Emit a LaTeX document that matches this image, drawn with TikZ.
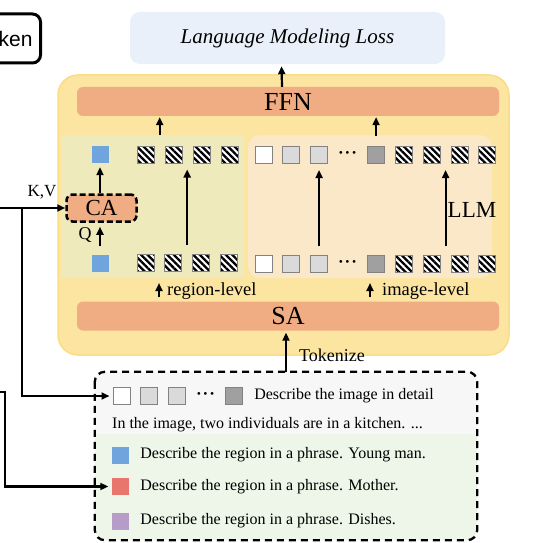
\documentclass[tikz,border=0pt]{standalone}
\usepackage{fontspec}
\setmainfont{Liberation Serif}
\newfontfamily\tokfont{Liberation Sans}
\usetikzlibrary{arrows.meta,positioning,calc,patterns.meta}
\definecolor{lossblue}{RGB}{233,240,250}
\definecolor{llmyellow}{RGB}{252,229,160}
\definecolor{llmedge}{RGB}{251,220,135}
\definecolor{lpanel}{RGB}{238,234,188}
\definecolor{rpanel}{RGB}{250,232,200}
\definecolor{barorange}{RGB}{240,172,130}
\definecolor{qblue}{RGB}{111,165,220}
\definecolor{redsq}{RGB}{232,118,108}
\definecolor{purplesq}{RGB}{182,156,200}
\definecolor{tokgray}{RGB}{130,130,130}
\definecolor{lgtok}{RGB}{218,218,218}
\definecolor{dgtok}{RGB}{160,160,160}
\definecolor{promptwhite}{RGB}{247,247,247}
\definecolor{promptgreen}{RGB}{238,245,233}
\newcommand\tokdots{\textbf{·\kern1pt·\kern1pt·}}

\begin{document}
\begin{tikzpicture}[x=1pt, y=-1pt, >={Triangle[length=8pt, width=7pt]}, font=\fontsize{16}{19}\selectfont]
      \tikzstyle{bar}   = [rectangle, fill=barorange, rounded corners=6, minimum width=422, minimum height=29, inner sep=0, font=\fontsize{26}{30}\selectfont]
      \tikzstyle{tok}   = [rectangle, draw=tokgray, line width=1, minimum size=17, inner sep=0]
      \tikzstyle{hatch} = [tok, preaction={fill=white}, pattern={Lines[angle=-45, distance=4.6pt, line width=2.3pt]}]
      \tikzstyle{csq}   = [rectangle, minimum size=17, inner sep=0]
      \tikzstyle{dots}  = [minimum size=17, inner sep=0, font=\fontsize{17}{17}\selectfont]
      \tikzstyle{flow}  = [->, line width=2.2]
      \tikzstyle{desc}  = [anchor=west, inner sep=0]
      \tikzstyle{lbl}   = [inner sep=0, font=\fontsize{18.5}{22}\selectfont]

      \useasboundingbox (0,0) rectangle (544,543);

      % cut-off token box, top left
      \node[draw, line width=3, rounded corners=8, text width=60, align=right, minimum height=49, inner xsep=8, anchor=east, font=\tokfont\fontsize{21}{25}\selectfont] (tkn) at (42,38.5) {ken};

      \node[fill=lossblue, rounded corners=10, minimum width=315, minimum height=52, font=\itshape\fontsize{21}{25}\selectfont] (loss) at (287.5,38) {Language Modeling Loss};

      % LLM block
      \node[fill=llmyellow, draw=llmedge, line width=1.5, rounded corners=20, minimum width=451, minimum height=280, inner sep=0] (llm) at (283.5,215) {};
      \node[fill=lpanel, rounded corners=4, minimum width=183, minimum height=143, inner sep=0] (lp) at (152.5,206.5) {};
      \node[fill=rpanel, rounded corners=12, minimum width=244, minimum height=143, inner sep=0] (rp) at (370,206.5) {};
      \node[bar] (ffn) at (288,101.5) {FFN};
      \node[bar] (sa)  at (288,316)   {SA};

      % top token row
      \node[csq, fill=qblue]                (qt)  at (100,154.5) {};
      \node[hatch]                          (rt1) at (145.5,154.5) {};
      \node[hatch, right=9.8pt of rt1]      (rt2) {};
      \node[hatch, right=9.8pt of rt2]      (rt3) {};
      \node[hatch, right=9.8pt of rt3]      (rt4) {};
      \node[tok, fill=white]                (it0) at (263.5,155) {};
      \node[tok, fill=lgtok, right=9.8pt of it0] (it1) {};
      \node[tok, fill=lgtok, right=9.8pt of it1] (it2) {};
      \node[dots, right=9.8pt of it2]       (itd) {\tokdots};
      \node[tok, fill=dgtok, right=9.8pt of itd] (it3) {};
      \node[hatch, right=9.8pt of it3]      (ht1) {};
      \node[hatch, right=9.8pt of ht1]      (ht2) {};
      \node[hatch, right=9.8pt of ht2]      (ht3) {};
      \node[hatch, right=9.8pt of ht3]      (ht4) {};

      % bottom token row
      \node[csq, fill=qblue]                (qb)  at (100,263) {};
      \node[hatch]                          (rb1) at (145.5,263) {};
      \node[hatch, right=9.8pt of rb1]      (rb2) {};
      \node[hatch, right=9.8pt of rb2]      (rb3) {};
      \node[hatch, right=9.8pt of rb3]      (rb4) {};
      \node[tok, fill=white]                (ib0) at (263.5,264) {};
      \node[tok, fill=lgtok, right=9.8pt of ib0] (ib1) {};
      \node[tok, fill=lgtok, right=9.8pt of ib1] (ib2) {};
      \node[dots, right=9.8pt of ib2]       (ibd) {\tokdots};
      \node[tok, fill=dgtok, right=9.8pt of ibd] (ib3) {};
      \node[hatch, right=9.8pt of ib3]      (hb1) {};
      \node[hatch, right=9.8pt of hb1]      (hb2) {};
      \node[hatch, right=9.8pt of hb2]      (hb3) {};
      \node[hatch, right=9.8pt of hb3]      (hb4) {};

      \node[fill=barorange, draw, line width=2.5, dash pattern=on 6pt off 3pt, rounded corners=6, minimum width=70, minimum height=27, inner sep=0, font=\fontsize{23}{27}\selectfont] (ca) at (101.5,208) {CA};

      \node[font=\fontsize{17}{20}\selectfont] (kv)  at (42,192)  {K,V};
      \node[font=\fontsize{18}{21}\selectfont] (q)   at (85,235)  {Q};
      \node[font=\fontsize{23}{27}\selectfont] (lbl) at (472,210) {LLM};

      \coordinate (rlvarr) at (159,283);
      \coordinate (ilvarr) at (370,283);
      \node[lbl, anchor=base west] (rlv) at (167,295) {region-level};
      \node[lbl, anchor=base west] (ilv) at (382,295) {image-level};

      % prompt box
      \node[fill=promptgreen, rounded corners=10, minimum width=382, minimum height=168, inner sep=0] (pr) at (286,456) {};
      \begin{scope}
        \clip[rounded corners=10] (pr.north west) rectangle (pr.south east);
        \fill[promptwhite] (pr.north west) rectangle ($(pr.north east)+(0,62)$);
      \end{scope}
      \draw[line width=2.3, dash pattern=on 7pt off 5pt, rounded corners=10] (pr.north west) rectangle (pr.south east);

      \node[tok, fill=white]                    (p0) at (121.5,396) {};
      \node[tok, fill=lgtok, right=9.8pt of p0] (p1) {};
      \node[tok, fill=lgtok, right=9.8pt of p1] (p2) {};
      \node[dots, right=9.8pt of p2]            (pd) {\tokdots};
      \node[tok, fill=dgtok, right=9.8pt of pd] (p3) {};
      \node[desc, right=11pt of p3]             (pdesc) {Describe the image in detail};
      \node[desc]                               (pcap) at (112,425) {In the image, two individuals are in a kitchen. ...};
      \node[csq, fill=qblue]                    (pblue) at (120,455) {};
      \node[desc, right=11.5pt of pblue]        (tblue) {Describe the region in a phrase. Young man.};
      \node[csq, fill=redsq]                    (pred) at (120,486.5) {};
      \node[desc, right=11.5pt of pred]         (tred) {Describe the region in a phrase. Mother.};
      \node[csq, fill=purplesq]                 (ppur) at (120,521) {};
      \node[desc, right=11.5pt of ppur]         (tpur) {Describe the region in a phrase. Dishes.};

      % connectors
      \coordinate (rmid) at ($(rt1)!0.5!(rt2)$);
      \coordinate (rcol) at ($(rb2)!0.5!(rb3)$);
      \coordinate (hcol) at ($(hb2)!0.5!(hb3)$);
      \coordinate (kvsrc)  at (0,208);
      \coordinate (kvturn) at (22,208);
      \coordinate (rsrc)   at (0,392);
      \coordinate (rturn)  at (5,392);

      \draw[flow, shorten >=2pt] ([xshift=-6pt]ffn.north) -- ([xshift=-6pt]loss.south);
      \draw[flow, shorten <=10pt, shorten >=1pt] (rmid |- rt1.north) -- (rmid |- ffn.south);
      \draw[flow, shorten <=10pt, shorten >=1pt] (it3.north) -- (it3.north |- ffn.south);
      \draw[flow, shorten <=9pt, shorten >=6pt] (rcol |- rb2.north) -- (rcol |- rt2.south);
      \draw[flow, shorten <=9pt, shorten >=6pt] (ib2.north) -- (it2.south);
      \draw[flow, shorten <=9pt, shorten >=6pt] (hcol |- hb2.north) -- (hcol |- ht2.south);
      \draw[flow, shorten >=4pt] (ca.north -| qt) -- (qt.south);
      \draw[flow, shorten <=8pt, shorten >=4pt] (qb.north) -- (qb.north |- ca.south);
      \draw[flow, shorten <=4pt] (sa.north -| rlvarr) -- (rlvarr);
      \draw[flow, shorten <=4pt] (sa.north -| ilvarr) -- (ilvarr);
      \draw[flow, shorten >=2pt] (pr.north) -- (pr.north |- sa.south);
      \node[lbl, anchor=base west, font=\fontsize{18}{21}\selectfont] (tkz) at (299,361) {Tokenize};
      \draw[flow] (kvsrc) -- (ca.west);
      \draw[flow, shorten >=3pt] (kvturn) |- (p0.west);
      \draw[flow, shorten >=3pt] (rsrc) -- (rturn) |- (pred.west);
\end{tikzpicture}
\end{document}
